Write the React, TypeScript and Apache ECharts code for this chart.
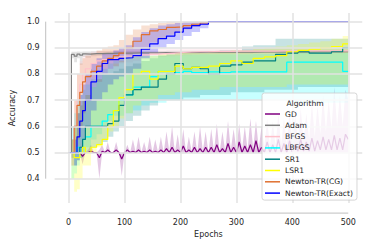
import React, { useEffect, useRef } from "react";
import * as echarts from "echarts";

const FONT = "DejaVu Sans, Verdana, sans-serif";
const TEXT = "#262626";

const xTicks = [0, 100, 200, 300, 400, 500];
const yTicks = [0.4, 0.5, 0.6, 0.7, 0.8, 0.9, 1.0];

const epochs = [0, 5, 10, 15, 20, 25, 30, 40, 50, 60, 70, 80, 90, 100, 115, 130, 145, 160, 175, 190, 205, 220, 235, 250, 270, 290, 310, 330, 350, 370, 390, 410, 430, 450, 470, 490, 500];
const gdEpochs = Array.from({ length: 101 }, (_, i) => i * 5);

const gdMean = [
  0.5, 0.5, 0.5, 0.5, 0.5, 0.485, 0.5, 0.5, 0.505, 0.5,
  0.5, 0.48, 0.505, 0.5, 0.51, 0.5, 0.5, 0.51, 0.5, 0.475,
  0.5, 0.51, 0.5, 0.505, 0.5, 0.51, 0.5, 0.505, 0.5, 0.51,
  0.5, 0.505, 0.5, 0.51, 0.5, 0.515, 0.5, 0.52, 0.5, 0.51,
  0.5, 0.525, 0.5, 0.51, 0.5, 0.52, 0.5, 0.515, 0.5, 0.52,
  0.5, 0.52, 0.5, 0.53, 0.5, 0.515, 0.5, 0.535, 0.5, 0.52,
  0.5, 0.54, 0.5, 0.525, 0.5, 0.53, 0.5, 0.545, 0.5, 0.52,
  0.5, 0.54, 0.5, 0.53, 0.5, 0.55, 0.5, 0.535, 0.5, 0.545,
  0.5, 0.53, 0.505, 0.55, 0.505, 0.54, 0.505, 0.555, 0.505, 0.545,
  0.51, 0.56, 0.51, 0.55, 0.51, 0.565, 0.51, 0.555, 0.51, 0.57,
  0.55,
];
const gdLo = [
  0.5, 0.5, 0.5, 0.5, 0.5, 0.455, 0.5, 0.5, 0.5, 0.5,
  0.5, 0.4, 0.5, 0.5, 0.5, 0.5, 0.5, 0.5, 0.5, 0.41,
  0.5, 0.5, 0.5, 0.5, 0.5, 0.5, 0.5, 0.5, 0.5, 0.5,
  0.5, 0.5, 0.5, 0.5, 0.5, 0.5, 0.5, 0.5, 0.5, 0.5,
  0.5, 0.5, 0.5, 0.5, 0.5, 0.5, 0.5, 0.5, 0.5, 0.5,
  0.5, 0.5, 0.5, 0.5, 0.5, 0.5, 0.5, 0.5, 0.5, 0.5,
  0.5, 0.5, 0.5, 0.5, 0.5, 0.5, 0.5, 0.5, 0.5, 0.5,
  0.5, 0.5, 0.5, 0.5, 0.5, 0.5, 0.5, 0.5, 0.5, 0.5,
  0.5, 0.5, 0.5, 0.5, 0.5, 0.5, 0.5, 0.5, 0.5, 0.5,
  0.5, 0.5, 0.5, 0.5, 0.5, 0.5, 0.5, 0.5, 0.5, 0.5,
  0.5,
];
const gdHi = [
  0.5, 0.5, 0.5, 0.5, 0.5, 0.5, 0.5, 0.51, 0.53, 0.5,
  0.5, 0.51, 0.53, 0.5, 0.54, 0.5, 0.5, 0.54, 0.5, 0.5,
  0.5, 0.53, 0.5, 0.55, 0.5, 0.56, 0.5, 0.54, 0.5, 0.56,
  0.5, 0.55, 0.5, 0.56, 0.5, 0.58, 0.505, 0.6, 0.5, 0.57,
  0.5, 0.59, 0.5, 0.56, 0.505, 0.58, 0.5, 0.6, 0.505, 0.58,
  0.5, 0.59, 0.505, 0.61, 0.5, 0.58, 0.505, 0.62, 0.51, 0.59,
  0.51, 0.61, 0.51, 0.6, 0.51, 0.63, 0.515, 0.62, 0.515, 0.6,
  0.52, 0.63, 0.52, 0.62, 0.525, 0.65, 0.53, 0.63, 0.53, 0.66,
  0.535, 0.64, 0.54, 0.67, 0.545, 0.65, 0.55, 0.69, 0.56, 0.68,
  0.57, 0.72, 0.58, 0.7, 0.59, 0.75, 0.6, 0.72, 0.6, 0.74,
  0.7,
];

const adamMean = [0.5, 0.875, 0.868, 0.876, 0.872, 0.877, 0.876, 0.878, 0.878, 0.879, 0.879, 0.88, 0.88, 0.88, 0.881, 0.881, 0.881, 0.882, 0.882, 0.882, 0.882, 0.882, 0.883, 0.883, 0.883, 0.883, 0.883, 0.884, 0.884, 0.884, 0.884, 0.884, 0.885, 0.885, 0.885, 0.885, 0.885];
const adamLo = [0.5, 0.86, 0.845, 0.86, 0.835, 0.865, 0.862, 0.868, 0.87, 0.872, 0.872, 0.873, 0.874, 0.874, 0.875, 0.875, 0.876, 0.876, 0.877, 0.877, 0.877, 0.877, 0.878, 0.878, 0.878, 0.878, 0.878, 0.879, 0.879, 0.879, 0.879, 0.879, 0.88, 0.88, 0.88, 0.88, 0.88];
const adamHi = [0.5, 0.885, 0.885, 0.886, 0.885, 0.886, 0.886, 0.887, 0.887, 0.887, 0.887, 0.888, 0.888, 0.888, 0.888, 0.888, 0.888, 0.888, 0.889, 0.889, 0.889, 0.889, 0.889, 0.889, 0.889, 0.889, 0.89, 0.89, 0.89, 0.89, 0.89, 0.89, 0.89, 0.89, 0.89, 0.89, 0.89];

const bfgsMean = [0.5, 0.5, 0.6, 0.7, 0.76, 0.8, 0.82, 0.84, 0.85, 0.855, 0.86, 0.862, 0.865, 0.868, 0.87, 0.873, 0.876, 0.878, 0.88, 0.882, 0.884, 0.885, 0.885, 0.886, 0.886, 0.887, 0.887, 0.887, 0.887, 0.888, 0.888, 0.888, 0.888, 0.888, 0.888, 0.888, 0.888];
const bfgsLo = [0.5, 0.45, 0.5, 0.55, 0.6, 0.65, 0.7, 0.75, 0.78, 0.8, 0.82, 0.83, 0.84, 0.845, 0.85, 0.855, 0.86, 0.865, 0.868, 0.87, 0.872, 0.874, 0.875, 0.876, 0.877, 0.878, 0.878, 0.879, 0.879, 0.88, 0.88, 0.88, 0.88, 0.88, 0.88, 0.88, 0.88];
const bfgsHi = [0.5, 0.55, 0.7, 0.8, 0.85, 0.87, 0.88, 0.885, 0.888, 0.89, 0.89, 0.892, 0.892, 0.893, 0.893, 0.894, 0.894, 0.895, 0.895, 0.895, 0.896, 0.896, 0.896, 0.896, 0.897, 0.897, 0.897, 0.897, 0.897, 0.897, 0.897, 0.897, 0.897, 0.897, 0.897, 0.897, 0.897];

const lbfgsMean = [0.5, 0.5, 0.5, 0.52, 0.5, 0.55, 0.56, 0.6, 0.6, 0.62, 0.645, 0.66, 0.7, 0.72, 0.75, 0.75, 0.79, 0.81, 0.81, 0.805, 0.81, 0.805, 0.805, 0.808, 0.805, 0.808, 0.808, 0.808, 0.808, 0.808, 0.845, 0.845, 0.845, 0.845, 0.845, 0.81, 0.81];
const lbfgsLo = [0.5, 0.4, 0.42, 0.45, 0.48, 0.5, 0.52, 0.55, 0.57, 0.6, 0.62, 0.64, 0.64, 0.65, 0.66, 0.68, 0.69, 0.69, 0.7, 0.7, 0.7, 0.7, 0.7, 0.7, 0.7, 0.7, 0.7, 0.7, 0.7, 0.7, 0.69, 0.69, 0.69, 0.69, 0.69, 0.69, 0.69];
const lbfgsHi = [0.5, 0.6, 0.65, 0.7, 0.72, 0.74, 0.76, 0.78, 0.8, 0.82, 0.84, 0.85, 0.86, 0.87, 0.87, 0.87, 0.87, 0.872, 0.872, 0.872, 0.874, 0.874, 0.875, 0.875, 0.875, 0.875, 0.875, 0.876, 0.876, 0.876, 0.88, 0.88, 0.88, 0.88, 0.88, 0.88, 0.88];

const sr1Mean = [0.5, 0.5, 0.5, 0.5, 0.52, 0.55, 0.6, 0.6, 0.6, 0.6, 0.61, 0.62, 0.68, 0.72, 0.74, 0.75, 0.75, 0.78, 0.8, 0.84, 0.82, 0.825, 0.82, 0.8, 0.83, 0.835, 0.845, 0.85, 0.85, 0.875, 0.88, 0.885, 0.88, 0.88, 0.885, 0.9, 0.9];
const sr1Lo = [0.5, 0.48, 0.45, 0.47, 0.48, 0.5, 0.5, 0.52, 0.53, 0.54, 0.56, 0.58, 0.6, 0.62, 0.64, 0.66, 0.68, 0.7, 0.7, 0.7, 0.71, 0.71, 0.72, 0.72, 0.72, 0.73, 0.73, 0.73, 0.74, 0.74, 0.74, 0.75, 0.75, 0.75, 0.75, 0.75, 0.75];
const sr1Hi = [0.5, 0.55, 0.6, 0.65, 0.68, 0.7, 0.72, 0.75, 0.78, 0.8, 0.8, 0.81, 0.82, 0.83, 0.84, 0.85, 0.86, 0.87, 0.875, 0.88, 0.88, 0.885, 0.885, 0.885, 0.89, 0.89, 0.905, 0.91, 0.91, 0.935, 0.935, 0.935, 0.935, 0.935, 0.935, 0.935, 0.935];

const lsr1Mean = [0.5, 0.5, 0.48, 0.48, 0.5, 0.52, 0.5, 0.52, 0.53, 0.55, 0.6, 0.66, 0.71, 0.74, 0.8, 0.81, 0.78, 0.81, 0.81, 0.83, 0.82, 0.825, 0.825, 0.83, 0.84, 0.85, 0.84, 0.86, 0.865, 0.87, 0.885, 0.89, 0.895, 0.9, 0.905, 0.915, 0.915];
const lsr1Lo = [0.5, 0.4, 0.35, 0.36, 0.4, 0.45, 0.45, 0.5, 0.52, 0.55, 0.58, 0.6, 0.63, 0.65, 0.68, 0.7, 0.7, 0.72, 0.72, 0.73, 0.73, 0.74, 0.74, 0.74, 0.75, 0.75, 0.75, 0.75, 0.75, 0.75, 0.76, 0.76, 0.76, 0.76, 0.76, 0.76, 0.76];
const lsr1Hi = [0.5, 0.55, 0.6, 0.65, 0.68, 0.7, 0.72, 0.75, 0.78, 0.8, 0.82, 0.84, 0.85, 0.86, 0.87, 0.87, 0.87, 0.875, 0.875, 0.88, 0.88, 0.88, 0.88, 0.885, 0.885, 0.89, 0.89, 0.895, 0.9, 0.905, 0.91, 0.915, 0.92, 0.925, 0.935, 0.945, 0.945];

const cgMean = [0.5, 0.5, 0.6, 0.68, 0.73, 0.77, 0.79, 0.81, 0.83, 0.85, 0.86, 0.87, 0.88, 0.9, 0.925, 0.95, 0.965, 0.97, 0.978, 0.98, 0.985, 0.99, 0.995, 1.0, 1.0, 1.0, 1.0, 1.0, 1.0, 1.0, 1.0, 1.0, 1.0, 1.0, 1.0, 1.0, 1.0];
const cgLo = [0.5, 0.45, 0.5, 0.55, 0.6, 0.65, 0.7, 0.75, 0.77, 0.8, 0.82, 0.83, 0.845, 0.86, 0.88, 0.9, 0.92, 0.935, 0.95, 0.96, 0.97, 0.98, 0.99, 1.0, 1.0, 1.0, 1.0, 1.0, 1.0, 1.0, 1.0, 1.0, 1.0, 1.0, 1.0, 1.0, 1.0];
const cgHi = [0.5, 0.55, 0.7, 0.8, 0.84, 0.86, 0.87, 0.88, 0.89, 0.9, 0.905, 0.91, 0.93, 0.95, 0.97, 0.985, 0.99, 0.995, 1.0, 1.0, 1.0, 1.0, 1.0, 1.0, 1.0, 1.0, 1.0, 1.0, 1.0, 1.0, 1.0, 1.0, 1.0, 1.0, 1.0, 1.0, 1.0];

const exMean = [0.5, 0.5, 0.5, 0.56, 0.62, 0.66, 0.7, 0.77, 0.81, 0.84, 0.855, 0.855, 0.86, 0.862, 0.87, 0.895, 0.915, 0.935, 0.945, 0.96, 0.975, 0.985, 0.99, 1.0, 1.0, 1.0, 1.0, 1.0, 1.0, 1.0, 1.0, 1.0, 1.0, 1.0, 1.0, 1.0, 1.0];
const exLo = [0.5, 0.5, 0.45, 0.47, 0.5, 0.55, 0.6, 0.66, 0.7, 0.73, 0.76, 0.78, 0.79, 0.8, 0.82, 0.86, 0.88, 0.9, 0.915, 0.93, 0.945, 0.96, 0.975, 1.0, 1.0, 1.0, 1.0, 1.0, 1.0, 1.0, 1.0, 1.0, 1.0, 1.0, 1.0, 1.0, 1.0];
const exHi = [0.5, 0.5, 0.55, 0.65, 0.72, 0.76, 0.8, 0.84, 0.86, 0.88, 0.88, 0.89, 0.9, 0.91, 0.94, 0.96, 0.975, 0.985, 0.99, 0.995, 1.0, 1.0, 1.0, 1.0, 1.0, 1.0, 1.0, 1.0, 1.0, 1.0, 1.0, 1.0, 1.0, 1.0, 1.0, 1.0, 1.0];

const algoNames = ["GD", "Adam", "BFGS", "LBFGS", "SR1", "LSR1", "Newton-TR(CG)", "Newton-TR(Exact)"];
const algoColors = ["#800080", "#808080", "#FFC0CB", "#00FFFF", "#008080", "#FFFF00", "#E07030", "#0000FF"];

export default function App() {
  const ref = useRef<HTMLDivElement>(null);

  useEffect(() => {
    document.body.style.margin = "0";
    const chart = echarts.init(ref.current!, null, { renderer: "svg" });

    const algos = [
      { x: gdEpochs, mean: gdMean, lo: gdLo, hi: gdHi, step: false },
      { x: epochs, mean: adamMean, lo: adamLo, hi: adamHi, step: true },
      { x: epochs, mean: bfgsMean, lo: bfgsLo, hi: bfgsHi, step: true },
      { x: epochs, mean: lbfgsMean, lo: lbfgsLo, hi: lbfgsHi, step: true },
      { x: epochs, mean: sr1Mean, lo: sr1Lo, hi: sr1Hi, step: true },
      { x: epochs, mean: lsr1Mean, lo: lsr1Lo, hi: lsr1Hi, step: true },
      { x: epochs, mean: cgMean, lo: cgLo, hi: cgHi, step: true },
      { x: epochs, mean: exMean, lo: exLo, hi: exHi, step: true },
    ].map((a, k) => ({ ...a, name: algoNames[k], color: algoColors[k] }));

    const bandSeries = algos.map((a) => ({
      type: "custom",
      name: a.name + " band",
      clip: true,
      silent: true,
      z: 1,
      data: [[0, 0.5]],
      renderItem: (params: any, api: any) => {
        const up: number[][] = [];
        const dn: number[][] = [];
        const n = a.x.length;
        for (let i = 0; i < n; i++) {
          if (a.step) {
            if (i < n - 1) {
              up.push(api.coord([a.x[i], a.hi[i]]), api.coord([a.x[i + 1], a.hi[i]]));
              dn.push(api.coord([a.x[i], a.lo[i]]), api.coord([a.x[i + 1], a.lo[i]]));
            }
          } else {
            up.push(api.coord([a.x[i], a.hi[i]]));
            dn.push(api.coord([a.x[i], a.lo[i]]));
          }
        }
        const points = up.concat(dn.reverse());
        return {
          type: "polygon",
          shape: { points },
          style: { fill: a.color, opacity: 0.22 },
          silent: true,
        };
      },
    }));

    const lineSeries = algos.map((a) => ({
      type: "line",
      name: a.name,
      data: a.x.map((e, i) => [e, a.mean[i]]),
      step: a.step ? "end" : false,
      showSymbol: false,
      symbol: "none",
      silent: true,
      z: 2,
      lineStyle: { color: a.color, width: 1.2 },
      itemStyle: { color: a.color },
    }));

    const gridSeries = {
      type: "line",
      name: "grid",
      data: [],
      z: 0,
      silent: true,
      markLine: {
        silent: true,
        symbol: ["none", "none"],
        label: { show: false },
        lineStyle: { color: "#e2e2e2", width: 1.5, type: "solid" },
        emphasis: { disabled: true },
        data: [
          ...xTicks.map((v) => ({ xAxis: v })),
          ...yTicks.map((v) => ({ yAxis: v })),
        ],
      },
    };

    const option: any = {
      animation: false,
      backgroundColor: "#ffffff",
      grid: { left: 48.75, right: 11.75, top: 13, bottom: 46 },
      xAxis: {
        type: "value",
        min: -25,
        max: 525,
        axisLine: { show: false },
        axisTick: { show: false },
        splitLine: { show: false },
        axisLabel: {
          customValues: xTicks,
          color: TEXT,
          fontSize: 8,
          fontFamily: FONT,
          margin: 15,
          formatter: (v: number) => String(v),
        },
        name: "Epochs",
        nameLocation: "middle",
        nameGap: 27,
        nameTextStyle: { color: TEXT, fontSize: 8, fontFamily: FONT },
      },
      yAxis: {
        type: "value",
        min: 0.307,
        max: 1.033,
        axisLine: { show: false },
        axisTick: { show: false },
        splitLine: { show: false },
        axisLabel: {
          customValues: yTicks,
          color: TEXT,
          fontSize: 8,
          fontFamily: FONT,
          margin: 15,
          formatter: (v: number) => v.toFixed(1),
        },
        name: "Accuracy",
        nameLocation: "middle",
        nameGap: 31,
        nameTextStyle: { color: TEXT, fontSize: 8, fontFamily: FONT },
      },
      legend: {
        data: algoNames.map((n) => ({ name: n, icon: "rect" })),
        orient: "vertical",
        left: 262,
        top: 93,
        padding: [15.5, 4, 1.5, 3],
        itemWidth: 15,
        itemHeight: 1.5,
        itemGap: 0.3,
        selectedMode: false,
        textStyle: { fontSize: 7.6, fontFamily: FONT, color: TEXT, lineHeight: 11 },
        backgroundColor: "rgba(255,255,255,0.8)",
        borderColor: "#cccccc",
        borderWidth: 0.8,
        borderRadius: 2.5,
        z: 50,
      },
      series: [gridSeries, ...bandSeries, ...lineSeries],
    };

    chart.setOption(option);

    const p = (x: number, y: number) => chart.convertToPixel({ gridIndex: 0 } as any, [x, y]) as number[];
    const yTop = p(0, 1.0)[1];
    const yBot = p(0, 0.4)[1];
    const x0 = p(0, 0.5)[0];
    const x1 = p(500, 0.5)[0];
    const gridLeft = p(-25, 0.5)[0];
    const gridBottom = p(0, 0.307)[1];

    chart.setOption({
      graphic: [
        {
          type: "line",
          shape: { x1: gridLeft - 9, y1: yTop, x2: gridLeft - 9, y2: yBot },
          style: { stroke: "#cccccc", lineWidth: 1.25 },
          silent: true,
        },
        {
          type: "line",
          shape: { x1: x0, y1: gridBottom + 10, x2: x1, y2: gridBottom + 10 },
          style: { stroke: "#cccccc", lineWidth: 1.25 },
          silent: true,
        },
        {
          type: "text",
          x: 305,
          y: 103,
          z: 100,
          silent: true,
          style: {
            text: "Algorithm",
            align: "center",
            verticalAlign: "middle",
            fontSize: 7.6,
            fontFamily: FONT,
            fill: TEXT,
          },
        },
      ],
    });

    return () => chart.dispose();
  }, []);

  return (
    <div
      ref={ref}
      style={{ position: "fixed", left: 0, top: 0, width: 374, height: 249, background: "#fff" }}
    />
  );
}
